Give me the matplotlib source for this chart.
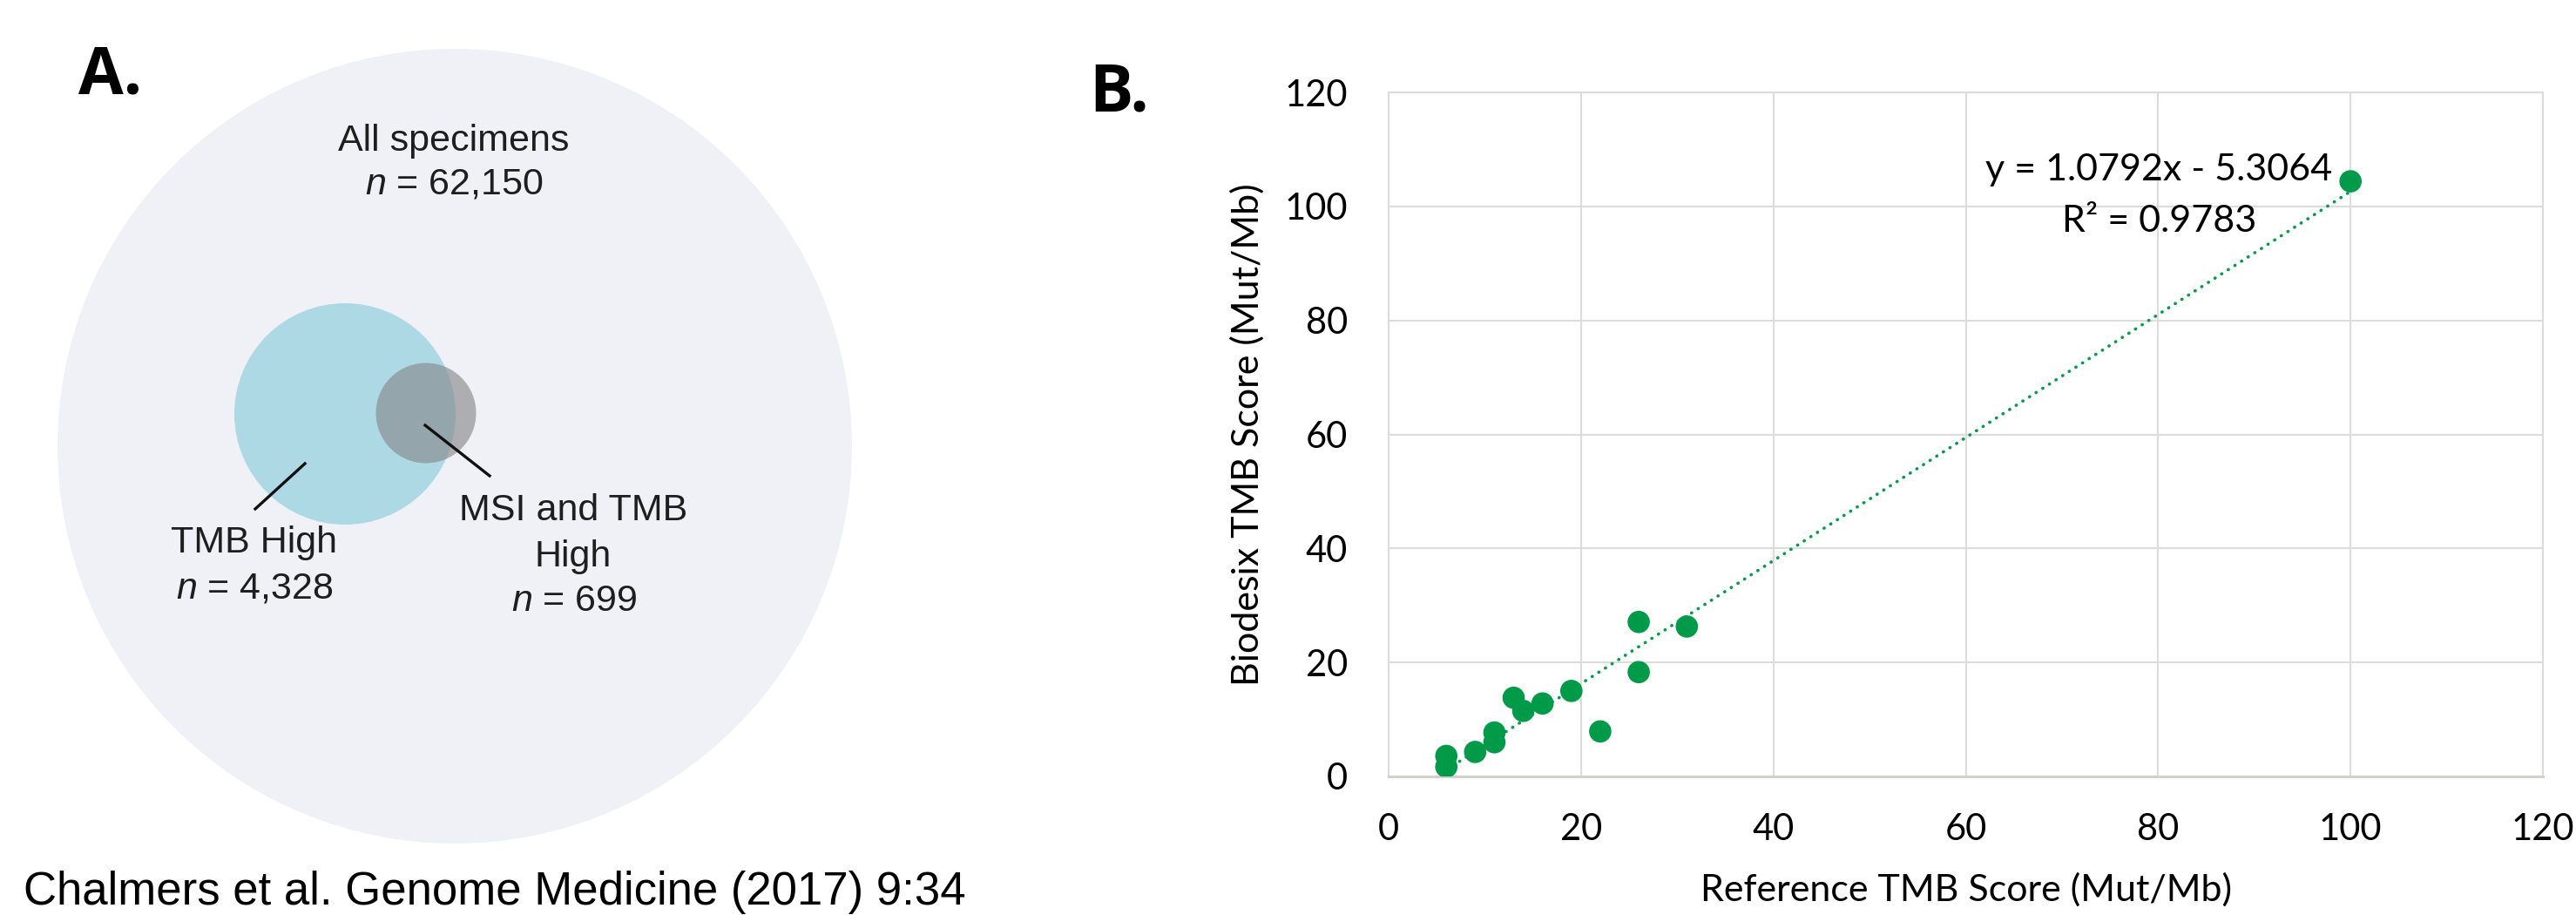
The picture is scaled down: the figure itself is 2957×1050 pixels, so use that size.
import numpy as np
import matplotlib
matplotlib.use('Agg')
import matplotlib.pyplot as plt
from matplotlib.patches import Circle

plt.rcParams['font.family'] = 'Liberation Sans'
plt.rcParams['mathtext.fontset'] = 'custom'
plt.rcParams['mathtext.rm'] = 'Liberation Sans'
plt.rcParams['mathtext.it'] = 'Liberation Sans:italic'

# ── Panel A: Venn counts (Chalmers et al.) ───────────────────────────────────
venn_labels = ['All specimens', 'TMB High', 'MSI and TMB\nHigh']
venn_counts = ['62,150', '4,328', '699']

# ── Panel B: reference vs Biodesix TMB scores ────────────────────────────────
ref_tmb = [6, 6, 9, 11, 11, 13, 14, 16, 19, 22, 26, 26, 31, 100]
biodesix_tmb = [3.6, 1.7, 4.3, 7.7, 6.0, 13.8, 11.5, 12.8, 15.0, 7.9, 27.1, 18.3, 26.3, 104.4]
SLOPE = 1.0792
INTERCEPT = -5.3064
R2 = 0.9783
x_ticks = [0, 20, 40, 60, 80, 100, 120]
y_ticks = [0, 20, 40, 60, 80, 100, 120]

C_POINT = '#009A48'
C_GRID = '#DEDBDB'
C_BIG = '#F0F1F6'
C_BLUE = '#ADD9E5'
C_GRAY = '#868688'

W, H = 2957, 1050
fig = plt.figure(figsize=(W / 100, H / 100), dpi=100)

# ── Panel A drawn in pixel coordinates ───────────────────────────────────────
ax_a = fig.add_axes([0, 0, 1, 1])
ax_a.set_xlim(0, W)
ax_a.set_ylim(H, 0)
ax_a.axis('off')

ax_a.add_patch(Circle((522, 512), 456, color=C_BIG, lw=0))
ax_a.add_patch(Circle((396, 475), 127, color=C_BLUE, lw=0))
ax_a.add_patch(Circle((489, 474), 57.5, color=C_GRAY, alpha=0.62, lw=0))
ax_a.plot([350, 293], [532, 584], color='#111111', lw=2.4)
ax_a.plot([488, 562], [488, 546], color='#111111', lw=2.4)

vfs = 31
vcol = '#1E1E1E'
ax_a.text(521, 173, venn_labels[0], ha='center', va='baseline', fontsize=vfs, color=vcol)
ax_a.text(521, 223, r'$\mathit{n}$ = ' + venn_counts[0], ha='center', va='baseline',
          fontsize=vfs, color=vcol)
ax_a.text(292, 634, venn_labels[1], ha='center', va='baseline', fontsize=vfs, color=vcol)
ax_a.text(292, 686, r'$\mathit{n}$ = ' + venn_counts[1], ha='center', va='baseline',
          fontsize=vfs, color=vcol)
msi_lines = venn_labels[2].split('\n')
ax_a.text(658, 597, msi_lines[0], ha='center', va='baseline', fontsize=vfs, color=vcol)
ax_a.text(658, 650, msi_lines[1], ha='center', va='baseline', fontsize=vfs, color=vcol)
ax_a.text(659, 701, r'$\mathit{n}$ = ' + venn_counts[2], ha='center', va='baseline',
          fontsize=vfs, color=vcol)

ax_a.text(27, 1038, 'Chalmers et al. Genome Medicine (2017) 9:34', ha='left',
          va='baseline', fontsize=38, color='black')

ax_a.text(90, 107, 'A.', ha='left', va='baseline', fontsize=54,
          fontweight='bold', family='Open Sans', color='black')
ax_a.text(1250, 127, 'B.', ha='left', va='baseline', fontsize=54,
          fontweight='bold', family='Open Sans', color='black')

# ── Panel B: scatter with linear trendline ───────────────────────────────────
left, right, top, bottom = 1594, 2919, 106, 891
ax = fig.add_axes([left / W, 1 - bottom / H, (right - left) / W, (bottom - top) / H])
ax.set_facecolor('none')

x_fit = np.array([min(ref_tmb), max(ref_tmb)])
ax.plot(x_fit, SLOPE * x_fit + INTERCEPT, color=C_POINT, lw=2.6,
        linestyle=(0, (0.1, 2.4)), dash_capstyle='round', zorder=2)
ax.scatter(ref_tmb, biodesix_tmb, s=340, color=C_POINT, edgecolors='none', zorder=3)

ax.set_xlim(0, 120)
ax.set_ylim(0, 120)
ax.set_xticks(x_ticks)
ax.set_yticks(y_ticks)
ax.grid(True, color=C_GRID, lw=1.5)
ax.set_axisbelow(True)
for s in ax.spines.values():
    s.set_color(C_GRID)
    s.set_linewidth(1.5)
ax.spines['bottom'].set_linewidth(2.2)
ax.spines['bottom'].set_color('#D3CFCF')

ax.tick_params(length=0, labelsize=30, colors='black')
ax.tick_params(axis='x', pad=30)
ax.tick_params(axis='y', pad=34)
for lbl in ax.get_xticklabels() + ax.get_yticklabels():
    lbl.set_family('Lato')

ax.set_xlabel('Reference TMB Score (Mut/Mb)', fontsize=31, family='Lato', labelpad=22)
ax.set_ylabel('Biodesix TMB Score (Mut/Mb)', fontsize=31, family='Lato', labelpad=16)

sign = '-' if INTERCEPT < 0 else '+'
ax.text(80.1, 104.6, f'y = {SLOPE:.4f}x {sign} {abs(INTERCEPT):.4f}', ha='center',
        va='baseline', fontsize=31, family='Lato')
ax.text(80.1, 95.6, f'R² = {R2:.4f}', ha='center', va='baseline', fontsize=31,
        family='Lato')

fig.savefig('out.png', dpi=100)
